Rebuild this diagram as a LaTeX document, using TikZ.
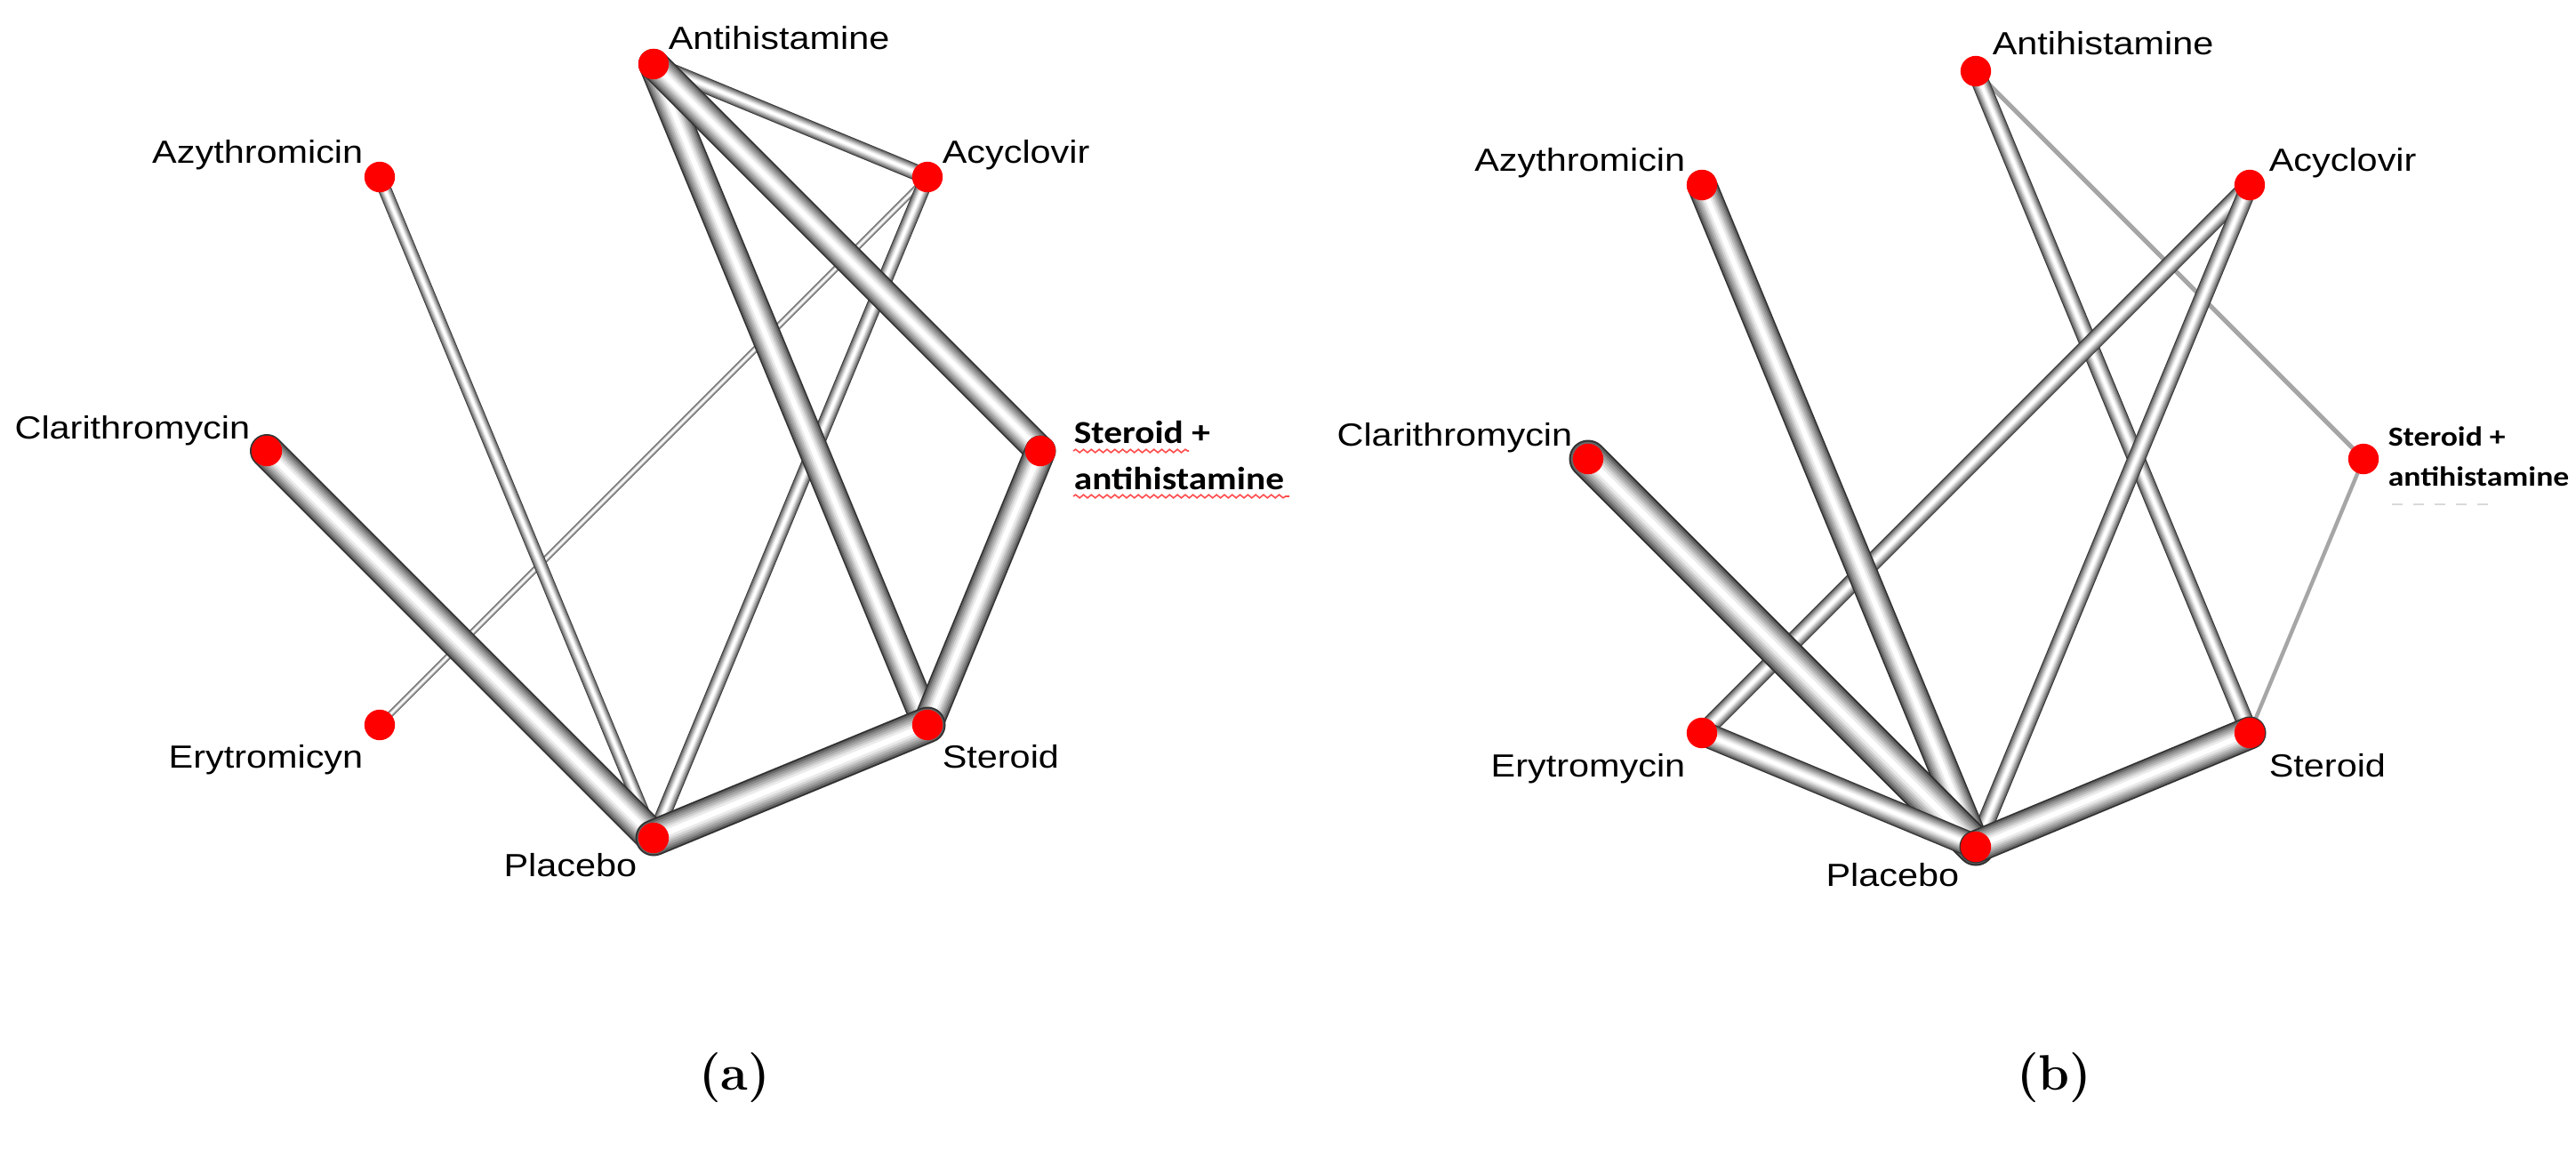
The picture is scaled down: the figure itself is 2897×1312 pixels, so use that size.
\documentclass[tikz,border=0pt]{standalone}
\usepackage{fontspec}
\usetikzlibrary{decorations.pathmorphing}
\newfontfamily\arialf{Liberation Sans}
\newfontfamily\calibf{Carlito}
\newcommand{\mytube}[3]{%
  \foreach \f/\c in {1/black!80, 0.9/black!60, 0.78/black!47, 0.66/black!37, 0.54/black!27, 0.42/black!17, 0.3/black!8, 0.16/white}{%
    \draw[line width=\f*#3*0.25bp, \c, line cap=round] (#1) -- (#2);
  }}
\begin{document}
\begin{tikzpicture}[x=0.25bp, y=-0.25bp,
  dot/.style={circle, fill=red, draw=none, inner sep=0pt, minimum size=8.6bp},
  lab/.style={inner sep=0pt, font=\arialf\fontsize{9bp}{10bp}\selectfont},
  blab/.style={inner sep=0pt, font=\calibf\bfseries\fontsize{9bp}{10bp}\selectfont},
  sblab/.style={inner sep=0pt, font=\calibf\bfseries\fontsize{7.75bp}{9bp}\selectfont},
  captext/.style={inner sep=0pt, font=\bfseries\fontsize{14bp}{16bp}\selectfont},
  thinline/.style={draw=black!35, line cap=round},
  wavy/.style={draw=red!70, line width=0.4bp, decorate, decoration={snake, amplitude=0.45bp, segment length=2.2bp}}]
\useasboundingbox (0,0) rectangle (2897,1312);
\fill[white] (0,0) rectangle (2897,1312);
\newcommand{\sx}[1]{\scalebox{1.15}[1]{#1}}
% ---------- panel (a) ----------
\coordinate (LAH)   at (735,72);
\coordinate (LAzy)  at (427,199);
\coordinate (LAcy)  at (1043,199);
\coordinate (LClar) at (300,507);
\coordinate (LSAH)  at (1170,507);
\coordinate (LEry)  at (427,815);
\coordinate (LSter) at (1043,815);
\coordinate (LPlac) at (735,942);
\mytube{LAH}{LAcy}{18}
\mytube{LAcy}{LEry}{7}
\mytube{LAzy}{LPlac}{15}
\mytube{LAcy}{LPlac}{17}
\mytube{LAH}{LSter}{34}
\mytube{LAH}{LSAH}{34}
\mytube{LClar}{LPlac}{38}
\mytube{LSAH}{LSter}{35}
\mytube{LPlac}{LSter}{41}
\foreach \n in {LAH,LAzy,LAcy,LClar,LSAH,LEry,LSter,LPlac}{\node[dot] (d\n) at (\n) {};}
\node[lab, anchor=base west] (tLAH) at (751,56) {\sx{Antihistamine}};
\node[lab, anchor=base east] (tLAzy) at (409,184) {\sx{Azythromicin}};
\node[lab, anchor=base west] (tLAcy) at (1059,184) {\sx{Acyclovir}};
\node[lab, anchor=base east] (tLClar) at (282,493) {\sx{Clarithromycin}};
\node[blab, anchor=base west] (tLSAHa) at (1207,498) {\sx{Steroid +}};
\node[blab, anchor=base west] (tLSAHb) at (1207,550) {\sx{antihistamine}};
\node[lab, anchor=base east] (tLEry) at (409,863) {\sx{Erytromicyn}};
\node[lab, anchor=base west] (tLSter) at (1059,863) {\sx{Steroid}};
\node[lab, anchor=base east] (tLPlac) at (717,985) {\sx{Placebo}};
\coordinate (wa1) at (1207,507); \coordinate (wa2) at (1337,507);
\coordinate (wb1) at (1207,558); \coordinate (wb2) at (1450,558);
\draw[wavy] (wa1) -- (wa2);
\draw[wavy] (wb1) -- (wb2);
\node[captext] (capa) at (826,1212) {(a)};
% ---------- panel (b) ----------
\coordinate (RAH)   at (2222,80);
\coordinate (RAzy)  at (1914,208);
\coordinate (RAcy)  at (2530,208);
\coordinate (RClar) at (1786,516);
\coordinate (RSAH)  at (2658,516);
\coordinate (REry)  at (1914,824);
\coordinate (RSter) at (2530,824);
\coordinate (RPlac) at (2222,952);
\draw[thinline, line width=1.3bp] (RAH) -- (RSAH);
\draw[thinline, line width=1.1bp] (RSAH) -- (RSter);
\mytube{RAH}{RSter}{20}
\mytube{RAcy}{REry}{20}
\mytube{RAcy}{RPlac}{20}
\mytube{RAzy}{RPlac}{34}
\mytube{RClar}{RPlac}{43}
\mytube{REry}{RPlac}{28}
\mytube{RPlac}{RSter}{37}
\foreach \n in {RAH,RAzy,RAcy,RClar,RSAH,REry,RSter,RPlac}{\node[dot] (d\n) at (\n) {};}
\node[lab, anchor=base west] (tRAH) at (2240,62) {\sx{Antihistamine}};
\node[lab, anchor=base east] (tRAzy) at (1896,193) {\sx{Azythromicin}};
\node[lab, anchor=base west] (tRAcy) at (2551,193) {\sx{Acyclovir}};
\node[lab, anchor=base east] (tRClar) at (1769,501) {\sx{Clarithromycin}};
\node[sblab, anchor=base west] (tRSAHa) at (2685,501) {\sx{Steroid +}};
\node[sblab, anchor=base west] (tRSAHb) at (2685,546) {\sx{antihistamine}};
\node[lab, anchor=base east] (tREry) at (1896,873) {\sx{Erytromycin}};
\node[lab, anchor=base west] (tRSter) at (2551,873) {\sx{Steroid}};
\node[lab, anchor=base east] (tRPlac) at (2204,996) {\sx{Placebo}};
\coordinate (fd1) at (2690,567); \coordinate (fd2) at (2805,567);
\draw[black!15, dashed, line width=0.6bp] (fd1) -- (fd2);
\node[captext] (capb) at (2310,1212) {(b)};
\end{tikzpicture}
\end{document}
